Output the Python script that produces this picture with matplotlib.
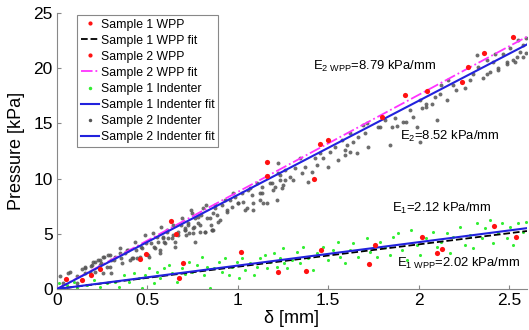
import numpy as np
import matplotlib
matplotlib.use("Agg")
import matplotlib.pyplot as plt

plt.rcParams['font.family'] = ['Liberation Sans', 'DejaVu Sans']
plt.rcParams['mathtext.default'] = 'regular'

# Sample 1 WPP measurements (red)
s1_wpp_x = [0.675, 0.695, 1.016, 1.22, 1.38, 1.46, 1.725, 1.76, 2.02, 2.10, 2.13, 2.42, 2.54]
s1_wpp_y = [1.0, 2.4, 3.35, 1.5, 1.65, 3.5, 2.25, 4.0, 4.7, 3.3, 3.6, 5.75, 4.75]

# Sample 2 WPP measurements (red)
s2_wpp_x = [0.05, 0.14, 0.19, 0.24, 0.46, 0.49, 0.63, 0.66, 1.16, 1.16, 1.42, 1.455, 1.50,
            1.80, 1.925, 2.045, 2.24, 2.275, 2.36, 2.52]
s2_wpp_y = [0.9, 0.8, 1.27, 1.8, 2.7, 3.2, 6.2, 5.0, 11.5, 10.2, 10.0, 13.1, 13.5,
            15.6, 17.6, 17.9, 18.75, 20.1, 21.35, 22.85]

# Sample 1 Indenter (green)
s1_ind_x = [0.009, 0.028, 0.055, 0.092, 0.111, 0.166, 0.203, 0.24, 0.276, 0.323, 0.341, 0.369,
            0.396, 0.424, 0.452, 0.47, 0.489, 0.507, 0.535, 0.553, 0.572, 0.59, 0.618, 0.636,
            0.664, 0.692, 0.71, 0.728, 0.747, 0.774, 0.802, 0.811, 0.83, 0.848, 0.867, 0.894,
            0.913, 0.931, 0.95, 0.968, 0.996, 1.005, 1.023, 1.042, 1.07, 1.088, 1.106, 1.125,
            1.152, 1.162, 1.18, 1.198, 1.217, 1.235, 1.254,
            1.252, 1.27, 1.298, 1.325, 1.344, 1.362, 1.39, 1.418, 1.436, 1.473, 1.501, 1.528,
            1.556, 1.565, 1.593, 1.621, 1.639, 1.666, 1.694, 1.713, 1.731, 1.768, 1.786, 1.814,
            1.842, 1.86, 1.888, 1.906, 1.934, 1.961, 1.989, 2.007, 2.044, 2.081, 2.1, 2.127,
            2.155, 2.174, 2.192, 2.229, 2.257, 2.284, 2.303, 2.321, 2.349, 2.367, 2.395, 2.413,
            2.44, 2.459, 2.487, 2.505, 2.524, 2.551, 2.579, 2.597]
s1_ind_y = [0.52, 0.21, 0.36, 0.66, 0.06, 0.36, 0.82, 0.21, 0.51, 0.66, 0.21, 1.27,
            0.66, 1.42, 0.97, 0.06, 1.27, 1.87, 0.51, 1.57, 0.97, 1.87, 2.17, 1.42,
            0.66, 1.87, 1.33, 2.48, 1.57, 2.17, 2.93, 1.27, 2.02, 0.06, 1.87, 2.48,
            1.57, 2.78, 1.27, 2.02, 2.48, 0.97, 2.78, 1.72, 2.33, 1.27, 2.02, 2.78,
            3.08, 1.87, 2.48, 3.23, 2.02, 2.78, 2.33,
            3.69, 1.87, 2.63, 3.38, 2.33, 3.84, 2.78, 1.72, 3.23, 3.84, 2.63, 3.53,
            4.29, 2.93, 2.33, 3.53, 4.14, 2.93, 3.53, 4.59, 3.38, 2.93, 4.29, 3.84,
            3.08, 4.74, 5.04, 3.53, 2.63, 5.34, 3.99, 3.08, 4.59, 5.19, 3.84, 4.29,
            5.04, 3.23, 4.74, 5.64, 3.99, 4.89, 3.69, 5.95, 4.59, 5.49, 6.25, 4.14,
            5.04, 5.95, 4.59, 5.64, 3.99, 5.95, 5.19, 6.1]

# Sample 2 Indenter (gray)
s2_ind_x = [0.017, 0.035, 0.063, 0.074, 0.108, 0.112, 0.137, 0.155, 0.157, 0.184, 0.192, 0.21,
            0.212, 0.238, 0.24, 0.256, 0.258, 0.275, 0.293, 0.295, 0.30, 0.313, 0.35, 0.36,
            0.387, 0.415, 0.442, 0.47, 0.507, 0.535, 0.553, 0.572, 0.59, 0.608, 0.636, 0.71,
            0.728, 0.756, 0.79, 0.857,
            0.153, 0.190, 0.199, 0.227, 0.254, 0.245, 0.282, 0.300, 0.319, 0.347, 0.356, 0.374,
            0.393, 0.402, 0.420, 0.430, 0.439, 0.457, 0.466, 0.485, 0.494, 0.503, 0.522, 0.531,
            0.540, 0.558, 0.568, 0.577, 0.586, 0.595, 0.614, 0.642, 0.651, 0.669, 0.688, 0.706,
            0.715, 0.724, 0.743, 0.752, 0.761, 0.780, 0.798, 0.817, 0.826, 0.844, 0.854, 0.863,
            0.872,
            0.588, 0.606, 0.653, 0.643, 0.671, 0.69, 0.708, 0.727, 0.745, 0.754, 0.763, 0.782,
            0.791, 0.809, 0.818, 0.828, 0.855, 0.865, 0.874, 0.892, 0.911, 0.929, 0.938, 0.966,
            0.984, 1.003, 1.03, 1.039, 1.058, 1.076, 1.085, 1.104, 1.122, 1.132, 1.159, 1.177,
            1.205, 1.223, 1.233, 1.251, 1.26,
            0.883, 0.9, 0.938, 0.957, 0.975, 1.003, 1.021, 1.049, 1.067, 1.086, 1.123, 1.132,
            1.141, 1.187, 1.196, 1.215, 1.224, 1.233, 1.243, 1.261, 1.289, 1.307, 1.316, 1.344,
            1.353, 1.372, 1.39, 1.408, 1.427, 1.436, 1.455, 1.473, 1.5, 1.51, 1.538, 1.556,
            1.575, 1.593, 1.603, 1.621, 1.64, 1.658, 1.667, 1.695, 1.704,
            1.713, 1.776, 1.814, 1.851, 1.869, 1.879, 1.915, 1.952, 1.97, 1.989, 2.007, 2.017,
            2.044, 2.072, 2.09, 2.118, 2.127, 2.155, 2.164, 2.192, 2.21, 2.256, 2.284, 2.303,
            2.321, 2.33, 2.358, 2.376, 2.395, 2.422, 2.44, 2.468, 2.487, 2.505, 2.532, 2.551,
            2.56, 2.579, 2.597, 2.579,
            1.593, 1.621, 1.722, 1.786, 1.841, 1.933, 2.007, 2.044, 2.1, 2.524, 2.542, 2.597,
            2.488, 2.441, 2.413, 2.376]
s2_ind_y = [1.18, 0.51, 1.42, 1.57, 0.51, 1.18, 1.78, 1.42, 2.02, 1.57, 2.18, 1.57,
            2.48, 2.63, 2.17, 1.42, 2.93, 2.02, 3.08, 2.02, 1.42, 2.63, 3.23, 2.33,
            3.53, 2.78, 2.78, 3.68, 2.93, 3.83, 4.74, 3.53, 4.29, 5.19, 4.59, 5.49,
            5.04, 5.65, 5.19, 5.34,
            1.87, 2.08, 2.47, 2.63, 2.93, 2.32, 3.08, 2.63, 2.93, 3.68, 2.78, 3.23,
            3.53, 2.63, 2.78, 4.29, 3.53, 2.93, 3.83, 4.89, 4.13, 3.08, 4.13, 5.04,
            3.68, 4.29, 3.23, 5.65, 4.74, 4.13, 4.59, 4.89, 3.83, 5.19, 5.80, 5.34,
            4.89, 5.95, 7.16, 5.50, 6.40, 5.95, 6.70, 5.19, 7.61, 6.40, 5.80, 5.34,
            7.31,
            4.59, 5.34, 4.29, 5.8, 4.89, 6.4, 5.34, 5.8, 6.85, 5.04, 4.29, 6.55,
            5.8, 7.31, 5.19, 6.4, 5.34, 6.85, 7.61, 6.1, 7.61, 8.06, 7.0, 7.46,
            8.36, 7.76, 7.91, 7.16, 8.97, 8.52, 7.76, 9.57, 8.67, 9.27, 7.76, 9.57,
            9.27, 10.5, 9.87, 9.42, 10.78,
            6.7, 6.25, 7.16, 8.06, 8.67, 7.76, 8.67, 7.31, 9.12, 7.16, 8.06, 8.67,
            7.76, 9.57, 8.97, 8.06, 11.38, 10.33, 9.12, 9.87, 10.18, 9.87, 10.93, 11.83,
            10.48, 11.08, 9.72, 10.63, 11.83, 11.23, 12.29, 11.83, 11.08, 12.44, 12.89, 11.68,
            13.49, 12.59, 13.04, 14.1, 13.34, 12.29, 13.79, 14.85, 14.1,
            15.0, 14.7, 15.3, 14.7, 15.46, 14.76, 15.16, 16.21, 15.6, 14.7, 17.1, 16.4,
            16.5, 16.8, 17.4, 17.7, 18.48, 17.1, 18.9, 18.5, 18.0, 18.2, 18.9, 19.5,
            21.2, 20.1, 19.1, 20.7, 19.7, 21.3, 19.99, 21.3, 20.6, 21.8, 20.6, 22.55,
            21.5, 22.1, 22.7, 21.0,
            12.14, 12.44, 12.89, 14.7, 13.04, 15.16, 13.34, 16.8, 15.31, 20.75, 21.05, 21.35,
            20.4, 19.85, 20.6, 19.5]

# fitted slopes [kPa/mm]
fit_range = [0.0, 2.6]
slope_s1_wpp = 2.02
slope_s2_wpp = 8.79
slope_s1_ind = 2.12
slope_s2_ind = 8.52

x_ticks = [0, 0.5, 1, 1.5, 2, 2.5]
x_ticklabels = ['0', '0.5', '1', '1.5', '2', '2.5']
y_ticks = [0, 5, 10, 15, 20, 25]


def fit_line(slope):
    return [slope * v for v in fit_range]


fig = plt.figure(figsize=(5.29, 3.30), dpi=100)
ax = fig.add_axes([57 / 529, 41 / 330, 470 / 529, 276 / 330])

ax.scatter(s2_ind_x, s2_ind_y, s=8, color='#555555', alpha=0.85, linewidths=0, zorder=2)
ax.scatter(s1_ind_x, s1_ind_y, s=5, color='#33ee33', linewidths=0, zorder=2)

h_s1_fit, = ax.plot(fit_range, fit_line(slope_s1_wpp), '--', color='k', lw=1.3, zorder=3)
h_s2_fit, = ax.plot(fit_range, fit_line(slope_s2_wpp), '-.', color='#ff33ff', lw=1.3, zorder=3)
h_s1_ind_fit, = ax.plot(fit_range, fit_line(slope_s1_ind), '-', color='#2222dd', lw=1.5, zorder=4)
h_s2_ind_fit, = ax.plot(fit_range, fit_line(slope_s2_ind), '-', color='#2222dd', lw=1.5, zorder=4)

ax.scatter(s1_wpp_x, s1_wpp_y, s=14, color='#ff1111', linewidths=0, zorder=5)
ax.scatter(s2_wpp_x, s2_wpp_y, s=14, color='#ff1111', linewidths=0, zorder=5)

# legend handles (points drawn as small dots)
h_s1_wpp, = ax.plot([], [], '.', color='#ff1111', ms=4)
h_s2_wpp, = ax.plot([], [], '.', color='#ff1111', ms=4)
h_s1_ind, = ax.plot([], [], '.', color='#33ee33', ms=3)
h_s2_ind, = ax.plot([], [], '.', color='#555555', ms=3)

handles = [h_s1_wpp, h_s1_fit, h_s2_wpp, h_s2_fit, h_s1_ind, h_s1_ind_fit, h_s2_ind, h_s2_ind_fit]
labels = ['Sample 1 WPP', 'Sample 1 WPP fit', 'Sample 2 WPP', 'Sample 2 WPP fit',
          'Sample 1 Indenter', 'Sample 1 Indenter fit', 'Sample 2 Indenter', 'Sample 2 Indenter fit']
leg = ax.legend(handles, labels, loc='upper left', bbox_to_anchor=(77 / 529, 1 - 15 / 330),
                bbox_transform=fig.transFigure, borderaxespad=0, fontsize=8.8, fancybox=False,
                framealpha=1, edgecolor='#888888', labelspacing=0.33, handlelength=1.5,
                handletextpad=0.15, borderpad=0.3)
leg.get_frame().set_linewidth(0.8)

ax.text(1.416, 20.2, 'E$_{2\\ WPP}$=8.79 kPa/mm', fontsize=9.4, va='center', ha='left')
ax.text(1.897, 13.8, 'E$_2$=8.52 kPa/mm', fontsize=9.4, va='center', ha='left')
ax.text(1.853, 7.3, 'E$_1$=2.12 kPa/mm', fontsize=9.4, va='center', ha='left')
ax.text(1.88, 2.35, 'E$_{1\\ WPP}$=2.02 kPa/mm', fontsize=9.4, va='center', ha='left')

ax.set_xlim(0, 2.6)
ax.set_ylim(0, 25)
ax.set_xticks(x_ticks)
ax.set_xticklabels(x_ticklabels)
ax.set_yticks(y_ticks)
ax.tick_params(direction='in', length=3, color='#888888', labelsize=12.5, pad=3)
for side in ['top', 'right']:
    ax.spines[side].set_visible(False)
for side in ['left', 'bottom']:
    ax.spines[side].set_color('#888888')

ax.set_xlabel('δ [mm]', fontsize=13, labelpad=1)
ax.set_ylabel('Pressure [kPa]', fontsize=13, labelpad=6)

fig.savefig('out.png', dpi=100)
